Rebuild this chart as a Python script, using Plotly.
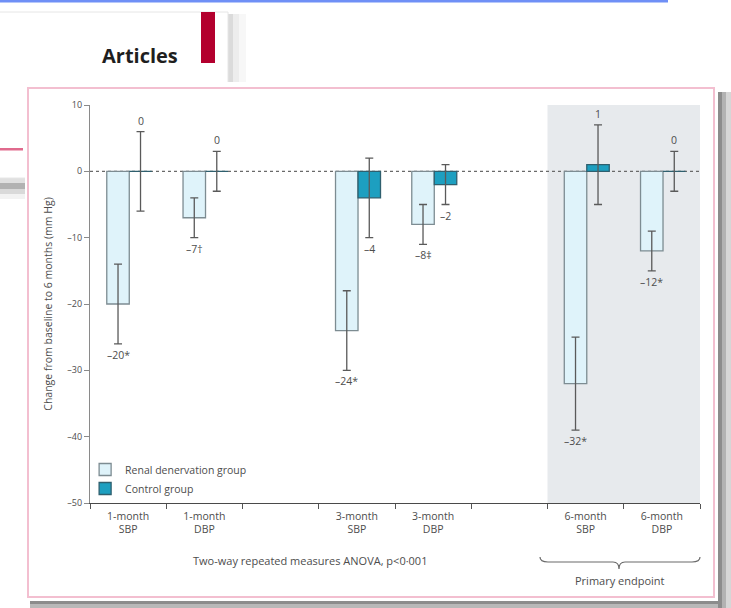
import plotly.graph_objects as go

# ---- data -------------------------------------------------------------
axis_slots = ["1-month<br>SBP", "1-month<br>DBP", " ",
              "3-month<br>SBP", "3-month<br>DBP", "  ",
              "6-month<br>SBP", "6-month<br>DBP"]
periods = ["1-month<br>SBP", "1-month<br>DBP", "3-month<br>SBP",
           "3-month<br>DBP", "6-month<br>SBP", "6-month<br>DBP"]

rdn_change = [-20, -7, -24, -8, -32, -12]
rdn_err = [6, 3, 6, 3, 7, 3]
rdn_labels = ["–20*", "–7†", "–24*", "–8‡", "–32*", "–12*"]

ctrl_change = [0, 0, -4, -2, 1, 0]
ctrl_err = [6, 3, 6, 3, 6, 3]
ctrl_labels = ["0", "0", "–4", "–2", "1", "0"]

y_ticks = [10, 0, -10, -20, -30, -40, -50]
y_ticktext = ["10", "0", "–10", "–20", "–30", "–40", "–50"]

# ---- geometry of the page ---------------------------------------------
W, H = 731, 608
L, R, T, B = 90, 700, 105, 503          # plot area in pixels
FONT = "Open Sans, DejaVu Sans, sans-serif"
TXT = "#4d4d4d"


def px(x):
    return (x - L) / (R - L)


def py(y):
    return (B - y) / (B - T)


def rect(x0, y0, x1, y1, fill, line=None, lw=0):
    return dict(type="rect", xref="paper", yref="paper",
                x0=px(x0), x1=px(x1), y0=py(y0), y1=py(y1),
                fillcolor=fill, layer="below",
                line=dict(color=line or "rgba(0,0,0,0)", width=lw))


def note(x, y, text, size=11, color=TXT):
    return dict(x=px(x), y=py(y), xref="paper", yref="paper",
                xanchor="center", yanchor="middle", text=text,
                showarrow=False, font=dict(family=FONT, size=size, color=color))


BAR_W = 0.295
RDN_OFF = -0.28
CTRL_OFF = 0.015

fig = go.Figure()
fig.add_trace(go.Bar(
    name="Renal denervation group", x=periods, y=rdn_change,
    width=BAR_W, offset=RDN_OFF,
    marker=dict(color="#dff3fa", line=dict(color="#7d8c92", width=1.3)),
    error_y=dict(type="data", array=rdn_err, color="#5a5a5a",
                 thickness=1.3, width=4),
))
fig.add_trace(go.Bar(
    name="Control group", x=periods, y=ctrl_change,
    width=BAR_W, offset=CTRL_OFF,
    marker=dict(color="#1d9fc0", line=dict(color="#2f5f6e", width=1.3)),
    error_y=dict(type="data", array=ctrl_err, color="#5a5a5a",
                 thickness=1.3, width=4),
))

# ---- value labels at the ends of the error bars -----------------------
annotations = []
for vals, errs, labs, off in ((rdn_change, rdn_err, rdn_labels, RDN_OFF),
                              (ctrl_change, ctrl_err, ctrl_labels, CTRL_OFF)):
    for p, v, e, t in zip(periods, vals, errs, labs):
        xc = axis_slots.index(p) + off + BAR_W / 2
        below = v < 0
        annotations.append(dict(
            x=xc, y=v - e if below else v + e, xref="x", yref="y",
            text=t, showarrow=False, xanchor="center",
            yanchor="top" if below else "bottom",
            yshift=-2 if below else 2,
            font=dict(family=FONT, size=10.5, color=TXT)))

annotations += [
    note(310, 560, "Two-way repeated measures ANOVA, p<0·001"),
    note(620, 580, "Primary endpoint"),
    note(140, 55, "<b>Articles</b>", size=20, color="#1e1e1e"),
]

# ---- page decoration: header card, panel, shadows ---------------------
shapes = [
    rect(0, 0, 668, 2.5, "#6f8ff6"),
    # header card and its shadow
    rect(228, 14, 233, 82, "rgba(0,0,0,0.14)"),
    rect(233, 14, 239, 82, "rgba(0,0,0,0.07)"),
    rect(239, 14, 246, 82, "rgba(0,0,0,0.03)"),
    rect(0, 178, 25, 183, "rgba(0,0,0,0.12)"),
    rect(0, 183, 25, 189, "rgba(0,0,0,0.3)"),
    rect(0, 189, 25, 194, "rgba(0,0,0,0.15)"),
    rect(0, 194, 25, 199, "rgba(0,0,0,0.05)"),
    rect(-2, 12, 228, 178, "#ffffff", "#e6e6e6", 1),
    rect(201, 12, 215, 63, "#b3002e"),
    rect(0, 148, 23, 150.5, "#e06a8d"),
    # figure panel with drop shadow
    rect(718, 92, 722, 608, "rgba(0,0,0,0.45)"),
    rect(722, 92, 726, 608, "rgba(0,0,0,0.3)"),
    rect(726, 92, 731, 608, "rgba(0,0,0,0.16)"),
    rect(30, 601, 718, 604, "rgba(0,0,0,0.45)"),
    rect(30, 604, 718, 608, "rgba(0,0,0,0.28)"),
    rect(25, 82, 718, 601, "#ffffff"),
    rect(28, 88, 714, 597, "rgba(0,0,0,0)", "#f3bfd0", 2),
    # primary endpoint shading and zero reference line
    dict(type="rect", xref="x", yref="y", x0=5.5, x1=7.5, y0=-50, y1=10,
         fillcolor="#e7eaed", line=dict(width=0), layer="below"),
    dict(type="line", xref="x", yref="y", x0=-0.5, x1=7.5, y0=0, y1=0,
         line=dict(color="#6a6a6a", width=1.4, dash="dot"), layer="below"),
]

# curly brace under the primary endpoint columns
bx0, bx1, bxm, by0, by1, by2 = 540, 700, 619, 557, 562, 569
brace = (f"M {px(bx0)},{py(by0)} Q {px(bx0)},{py(by1)} {px(bx0 + 8)},{py(by1)} "
         f"L {px(bxm - 6)},{py(by1)} Q {px(bxm)},{py(by1)} {px(bxm)},{py(by2)} "
         f"Q {px(bxm)},{py(by1)} {px(bxm + 6)},{py(by1)} "
         f"L {px(bx1 - 8)},{py(by1)} Q {px(bx1)},{py(by1)} {px(bx1)},{py(by0)}")
shapes.append(dict(type="path", xref="paper", yref="paper", path=brace,
                   line=dict(color="#6a6a6a", width=1.2), layer="above"))

fig.update_layout(
    width=W, height=H,
    margin=dict(l=L, r=W - R, t=T, b=H - B),
    paper_bgcolor="#ffffff",
    plot_bgcolor="rgba(0,0,0,0)",
    barmode="overlay",
    showlegend=True,
    legend=dict(x=-0.008, y=0.0, xanchor="left", yanchor="bottom",
                bgcolor="rgba(0,0,0,0)", tracegroupgap=2,
                font=dict(family=FONT, size=10.5, color=TXT),
                itemwidth=30),
    shapes=shapes,
    annotations=annotations,
    font=dict(family=FONT, color=TXT),
)

fig.update_xaxes(
    type="category", categoryorder="array", categoryarray=axis_slots,
    range=[-0.5, 7.5], tickson="boundaries",
    ticks="outside", ticklen=5, tickcolor="#555", tickwidth=1.2,
    ticklabelstandoff=3,
    showline=True, linecolor="#4a4a4a", linewidth=1.4,
    showgrid=False, zeroline=False,
    tickfont=dict(family=FONT, size=10.5, color=TXT),
)
fig.update_yaxes(
    range=[-50, 10], tickvals=y_ticks, ticktext=y_ticktext,
    ticks="outside", ticklen=5, tickcolor="#8a8a8a", tickwidth=1.2,
    showline=True, linecolor="#8a8a8a", linewidth=1.3,
    showgrid=False, zeroline=False,
    tickfont=dict(family=FONT, size=9, color=TXT),
    title=dict(text="Change from baseline to 6 months (mm Hg)",
               font=dict(family=FONT, size=10.5, color=TXT), standoff=12),
)

fig.write_html("out.html")
